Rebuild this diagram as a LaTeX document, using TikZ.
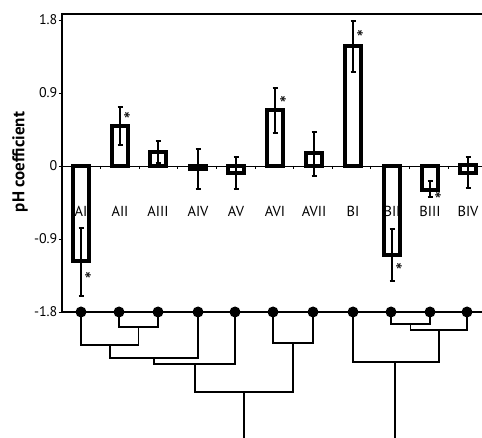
\documentclass[tikz,border=0pt]{standalone}
\usepackage{fontspec}
\setmainfont{PT Sans}
\newcommand{\tightstar}{\raisebox{-9pt}[6pt][0pt]{*}}
\begin{document}
\begin{tikzpicture}[x=1pt,y=-1pt,
  barbox/.style={line width=3.2pt},
  errbar/.style={line width=1.3pt},
  axisline/.style={line width=2.6pt},
  tree/.style={line width=1.7pt},
  leaf/.style={circle,fill=black,inner sep=0pt,minimum size=11pt},
  catlab/.style={font=\fontsize{14.5}{15}\selectfont,inner sep=0pt},
  ticklab/.style={font=\fontsize{14}{15}\selectfont,anchor=east,inner sep=0pt},
  starlab/.style={font=\fontsize{21}{21}\selectfont,inner sep=0pt,anchor=center}]
\useasboundingbox (0,0) rectangle (482,438);

% y-axis label
\node[rotate=90,font=\bfseries\fontsize{17}{17}\selectfont] (ylab) at (20,162) {pH coefficient};

% tick labels and ticks
\foreach \v/\y/\nm in {1.8/20/t1,0.9/93/t2,0/166/t3,-0.9/239/t4,-1.8/312/t5}{
  \node[ticklab] (\nm) at (57.5,\y) {\v};
  \draw[line width=0.9pt] (58.5,\y) -- (62,\y);
}

% zero line and minor ticks
\draw[line width=0.9pt] (62,166) -- (482,166);
\foreach \x in {100.6,139.2,177.8,216.4,255,293.6,332.2,370.8,409.4,448}{
  \draw[line width=0.9pt] (\x,166) -- (\x,169);
}

% frame
\draw[axisline] (62,14) -- (482,14);
\draw[line width=2.2pt] (62,13) -- (62,312);
\draw[axisline] (62,312) -- (482,312);

% category labels
\foreach \n/\c in {AI/81,AII/120,AIII/158,AIV/198,AV/236,AVI/275,AVII/314,BI/353,BII/392,BIII/430,BIV/468}{
  \node[catlab] (lab\n) at (\c,211) {\n};
}

% bars and error bars
\foreach \c/\t/\b/\et/\eb in {81/166/261/228/296,120/126/166/107/145,158/152/166/141/163,198/166/169/149/189,236/166/173/157/189,275/110/166/88/133,314/153/166/132/176,353/46/166/21/72,392/166/255/229/281,430/166/190/181/197,468/165/173/157/188}{
  \draw[barbox] (\c-8,\t) rectangle (\c+8,\b);
  \draw[errbar] (\c-2.5,\et) -- (\c+2.5,\et) (\c,\et) -- (\c,\eb) (\c-2.5,\eb) -- (\c+2.5,\eb);
}

% asterisks
\foreach \x/\y/\nm in {88/277/s1,127/117/s2,283/101/s3,360/35/s4,399/268/s5,438/197/s6}{
  \node[starlab] (\nm) at (\x,\y-1) {\tightstar};
}

% dendrogram
\coordinate (j1) at (138.5,327);
\coordinate (j2) at (110,345);
\coordinate (j3) at (154,358);
\coordinate (j4) at (195,364);
\coordinate (j5) at (293,343);
\coordinate (j6) at (244,392);
\coordinate (rA) at (244,438);
\coordinate (k1) at (410.5,324);
\coordinate (k2) at (439,330);
\coordinate (k3) at (395,362);
\coordinate (rB) at (395,438);

\foreach \n/\x in {AI/81,AII/119,AIII/158,AIV/198,AV/235,AVI/273,AVII/313,BI/353,BII/391,BIII/430,BIV/467}{
  \coordinate (p\n) at (\x,312);
}
\draw[tree] (pAII) |- (j1) -| (pAIII);
\draw[tree] (pAI) |- (j2) -| (j1);
\draw[tree] (j2) |- (j3) -| (pAIV);
\draw[tree] (j3) |- (j4) -| (pAV);
\draw[tree] (pAVI) |- (j5) -| (pAVII);
\draw[tree] (j4) |- (j6) -| (j5);
\draw[tree] (j6) -- (rA);
\draw[tree] (pBII) |- (k1) -| (pBIII);
\draw[tree] (k1) |- (k2) -| (pBIV);
\draw[tree] (pBI) |- (k3) -| (k2);
\draw[tree] (k3) -- (rB);

\foreach \n in {AI,AII,AIII,AIV,AV,AVI,AVII,BI,BII,BIII,BIV}{
  \node[leaf] (d\n) at (p\n) {};
}
\end{tikzpicture}
\end{document}
